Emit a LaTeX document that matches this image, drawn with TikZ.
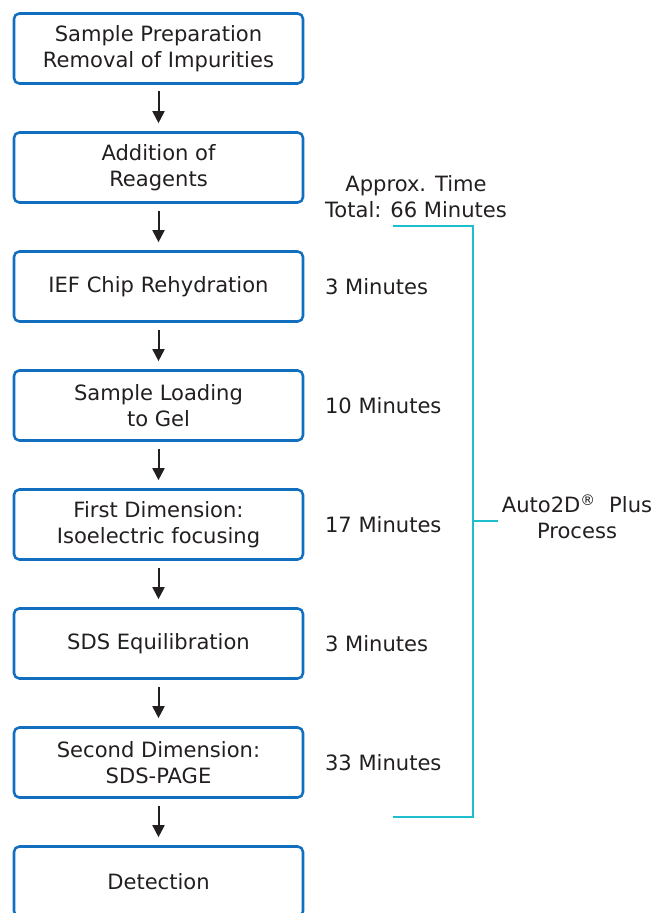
\documentclass[tikz,border=0pt]{standalone}
\usepackage{fontspec}
\setmainfont{DejaVu Sans}
\usetikzlibrary{arrows.meta,
                positioning}
\definecolor{boxblue}{RGB}{18,110,190}
\definecolor{brcyan}{RGB}{30,190,205}
\definecolor{txtgray}{RGB}{35,31,32}

\begin{document}
\begin{tikzpicture}[x=0.75pt, y=-0.75pt,
    node distance = 36.75pt and 13pt,
    font=\fontsize{15.8}{19.5}\selectfont,
    text=txtgray,
      base/.style = {draw=boxblue, line width=1.9pt, rounded corners=4pt, outer sep=0pt,
                     minimum width=216.75pt, minimum height=52.5pt, align=center},
   process/.style = {base},
      time/.style = {anchor=west, align=left},
      flow/.style = {line width=1.5pt, draw=txtgray,
                     -{Triangle[length=9pt, width=9pt]}, shorten <=6pt, shorten >=7pt},
   bracket/.style = {draw=brcyan, line width=1.9pt}
                    ]
  \useasboundingbox (0,0) rectangle (652,913);
  \node [process] (prep) at (158.5,48.5) {Sample Preparation\\Removal of Impurities};
  \node [process, below=of prep]     (reagents) {Addition of\\Reagents};
  \node [process, below=of reagents] (rehyd)    {IEF Chip Rehydration};
  \node [process, below=of rehyd]    (loading)  {Sample Loading\\to Gel};
  \node [process, below=of loading]  (ief)      {First Dimension:\\Isoelectric focusing};
  \node [process, below=of ief]      (equil)    {SDS Equilibration};
  \node [process, below=of equil]    (sdspage)  {Second Dimension:\\SDS-PAGE};
  \node [process, below=of sdspage]  (detect)   {Detection};
  %
  \node [time, right=of rehyd]   (t1) {3 Minutes};
  \node [time, right=of loading] (t2) {10 Minutes};
  \node [time, right=of ief]     (t3) {17 Minutes};
  \node [time, right=of equil]   (t4) {3 Minutes};
  \node [time, right=of sdspage] (t5) {33 Minutes};
  \node [align=center] (total) at (416,197) {Approx. Time\\Total: 66 Minutes};
  %
  \draw [flow] (prep) -- (reagents);
  \draw [flow] (reagents) -- (rehyd);
  \draw [flow] (rehyd) -- (loading);
  \draw [flow] (loading) -- (ief);
  \draw [flow] (ief) -- (equil);
  \draw [flow] (equil) -- (sdspage);
  \draw [flow] (sdspage) -- (detect);
  %
  \coordinate (btop) at (393,226);
  \coordinate (bbot) at (393,817);
  \coordinate (bmid) at (473,521);
  \coordinate (bend) at (498,521);
  \node [align=center] (auto) at (577,517) {Auto2D\textsuperscript{®}~ Plus\\Process};
  \draw [bracket] (btop) -| (473,817) -- (bbot);
  \draw [bracket] (bmid) -- (bend);
\end{tikzpicture}
\end{document}
